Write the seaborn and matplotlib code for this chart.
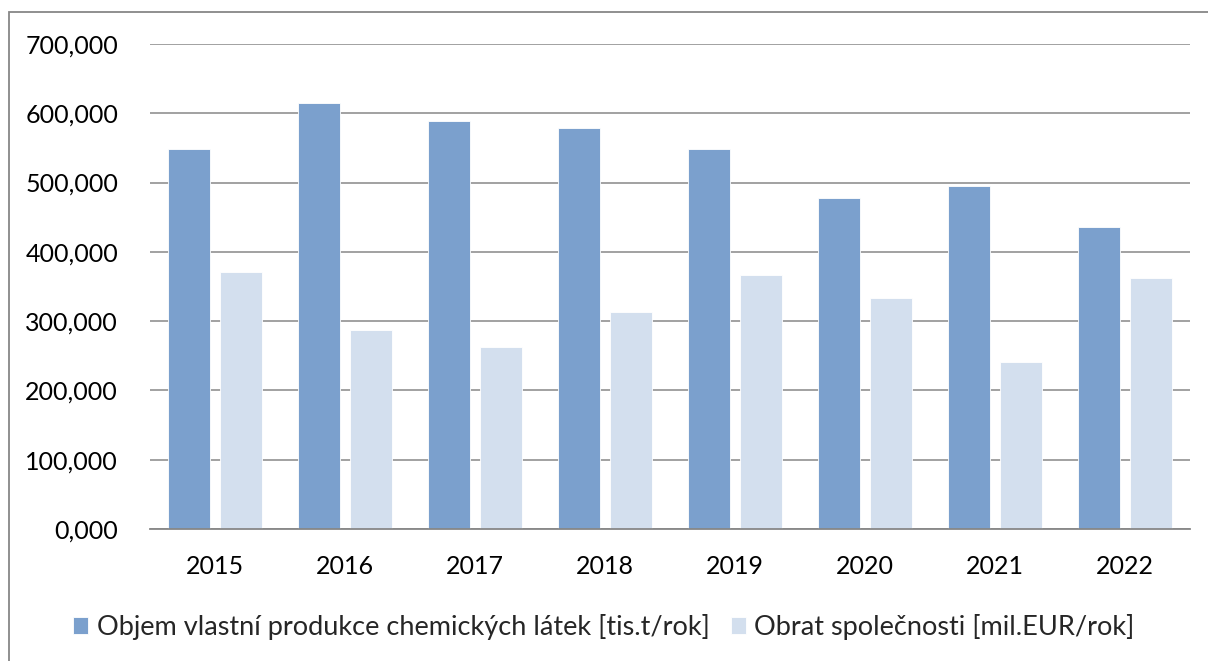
import matplotlib
matplotlib.use("Agg")
import matplotlib.pyplot as plt
import matplotlib.ticker as mticker
from matplotlib.patches import Rectangle
import seaborn as sns
import pandas as pd

years = ["2015", "2016", "2017", "2018", "2019", "2020", "2021", "2022"]
production = [548, 615, 589, 579, 548, 478, 495, 436]
turnover = [371, 287, 262, 313, 366, 334, 241, 362]
series_names = ["Objem vlastní produkce chemických látek [tis.t/rok]",
                "Obrat společnosti [mil.EUR/rok]"]
colors = ["#7BA0CD", "#D3DFEE"]

df = pd.DataFrame({
    "year": years * 2,
    "value": production + turnover,
    "series": [series_names[0]] * len(years) + [series_names[1]] * len(years),
})

sns.set_theme(style="white")
plt.rcParams["font.family"] = ["Lato", "DejaVu Sans"]

fig = plt.figure(figsize=(12.08, 6.61), dpi=100)
ax = fig.add_axes([150 / 1208, 1 - 529 / 661, 1040 / 1208, 485 / 661])

sns.barplot(data=df, x="year", y="value", hue="series", palette=colors,
            width=0.8, gap=0.19, ax=ax, saturation=1, legend=True,
            edgecolor="white", linewidth=0.6)

ax.set_ylim(0, 700)
ax.set_xlim(-0.5, len(years) - 0.5)
ax.yaxis.set_major_locator(mticker.MultipleLocator(100))
ax.yaxis.set_major_formatter(mticker.FuncFormatter(lambda v, p: f"{v:.3f}".replace(".", ",")))
ax.grid(axis="y", color="#878787", linewidth=1.1)
ax.set_axisbelow(True)
for s in ["top", "right", "left"]:
    ax.spines[s].set_visible(False)
ax.spines["bottom"].set_color("#878787")
ax.spines["bottom"].set_linewidth(1.3)
ax.tick_params(axis="both", length=0, labelsize=18, colors="black")
ax.tick_params(axis="y", pad=23)
ax.tick_params(axis="x", pad=19)
ax.set_xlabel("")
ax.set_ylabel("")

leg = ax.legend(loc="center", bbox_to_anchor=(0.5, (661 - 627) / 661), bbox_transform=fig.transFigure,
                ncol=2, frameon=False, fontsize=19.5, handlelength=0.56, handleheight=0.56,
                handletextpad=0.3, columnspacing=0.8, borderaxespad=0)

fig.patches.append(Rectangle((8.5 / 1208, -0.1), 1.2, 1 - 12.5 / 661 + 0.1,
                             transform=fig.transFigure, fill=False,
                             edgecolor="#878787", linewidth=1.3))

fig.savefig("out.png", dpi=100, facecolor="white")
